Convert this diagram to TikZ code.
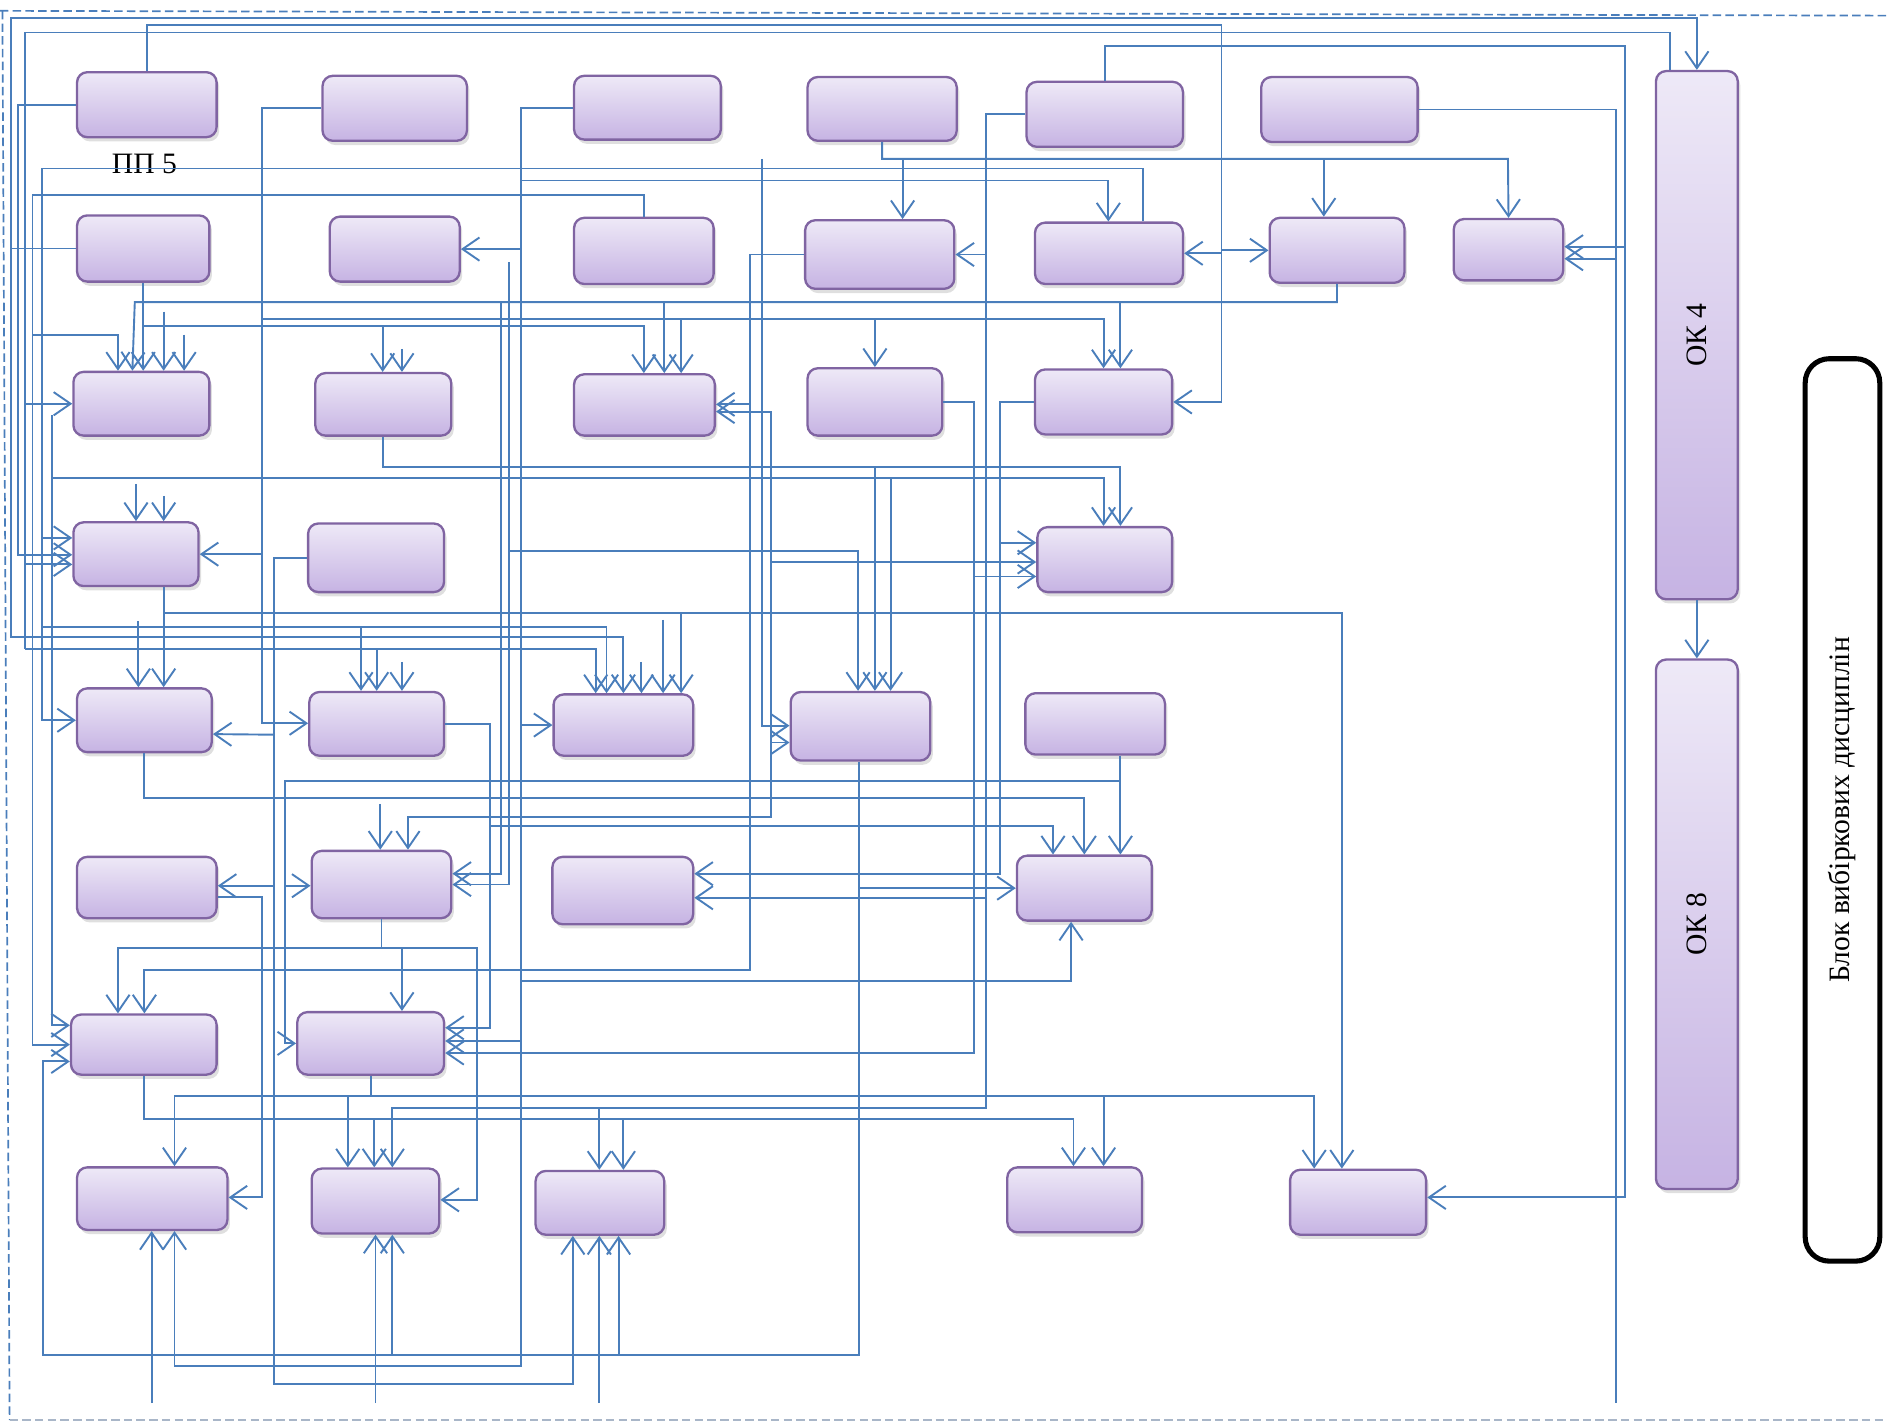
\documentclass[tikz,border=0pt]{standalone}
\usepackage{fontspec}
\setmainfont{Liberation Serif}
\usetikzlibrary{arrows.meta,shadows}

\definecolor{boxline}{HTML}{8064A2}
\definecolor{boxtop}{HTML}{EEE9F7}
\definecolor{boxbot}{HTML}{C6B3E3}
\definecolor{linkblue}{HTML}{4A7EBB}
\definecolor{framegrey}{HTML}{A9B6C8}

\tikzset{
  box/.style={draw=boxline, line width=1.1pt, rounded corners=0.17cm,
    top color=boxtop, bottom color=boxbot, inner sep=0pt,
    drop shadow={shadow xshift=1.2pt, shadow yshift=-2pt, opacity=0.25}},
  blockbox/.style={draw=black, line width=2.4pt, rounded corners=0.4cm, fill=white},
  conn/.style={draw=linkblue, line width=0.9pt},
  arr/.style={conn, -{Straight Barb[length=8pt,width=11pt]}},
  biarr/.style={conn, {Straight Barb[length=8pt,width=11pt]}-{Straight Barb[length=8pt,width=11pt]}},
  framedash/.style={draw=linkblue, line width=0.8pt, dash pattern=on 4pt off 2pt},
  lbl/.style={font=\fontsize{14}{16}\selectfont},
}

\begin{document}
\begin{tikzpicture}[x=0.02cm, y=-0.02cm]
\useasboundingbox (0,0) rectangle (1568,1182);

% frame
\draw[framedash] (0,9) -- (1568,13);
\draw[framedash] (2,9) -- (8,1180);
\draw[framedash, draw=framegrey] (8,1180) -- (1568,1180);

% row 1
\node[box, minimum width=2.32cm, minimum height=1.08cm] (b11) at (122,87) {};
\node[box, minimum width=2.40cm, minimum height=1.08cm] (b12) at (328,90) {};
\node[box, minimum width=2.44cm, minimum height=1.06cm] (b13) at (538,89.5) {};
\node[box, minimum width=2.48cm, minimum height=1.06cm] (b14) at (733,90.5) {};
\node[box, minimum width=2.60cm, minimum height=1.08cm] (b15) at (918,95) {};
\node[box, minimum width=2.60cm, minimum height=1.08cm] (b16) at (1113,91) {};
\node[lbl] (pp5) at (120,136) {ПП 5};
% row 2
\node[box, minimum width=2.20cm, minimum height=1.10cm] (b21) at (119,206.5) {};
\node[box, minimum width=2.16cm, minimum height=1.08cm] (b22) at (328,207) {};
\node[box, minimum width=2.32cm, minimum height=1.10cm] (b23) at (535,208.5) {};
\node[box, minimum width=2.48cm, minimum height=1.14cm] (b24) at (731,211.5) {};
\node[box, minimum width=2.46cm, minimum height=1.02cm] (b25) at (921.5,210.5) {};
\node[box, minimum width=2.24cm, minimum height=1.08cm] (b26) at (1111,208) {};
\node[box, minimum width=1.82cm, minimum height=1.02cm] (b27) at (1253.5,207.5) {};
% row 3
\node[box, minimum width=2.26cm, minimum height=1.06cm] (b31) at (117.5,335.5) {};
\node[box, minimum width=2.26cm, minimum height=1.04cm] (b32) at (318.5,336) {};
\node[box, minimum width=2.34cm, minimum height=1.02cm] (b33) at (535.5,336.5) {};
\node[box, minimum width=2.24cm, minimum height=1.12cm] (b34) at (727,334) {};
\node[box, minimum width=2.28cm, minimum height=1.08cm] (b35) at (917,334) {};
% row 4
\node[box, minimum width=2.08cm, minimum height=1.06cm] (b41) at (113,460.5) {};
\node[box, minimum width=2.26cm, minimum height=1.14cm] (b42) at (312.5,463.5) {};
\node[box, minimum width=2.24cm, minimum height=1.08cm] (b43) at (918,465) {};
% row 5
\node[box, minimum width=2.24cm, minimum height=1.06cm] (b51) at (120,598.5) {};
\node[box, minimum width=2.24cm, minimum height=1.06cm] (b52) at (313,601.5) {};
\node[box, minimum width=2.32cm, minimum height=1.02cm] (b53) at (518,602.5) {};
\node[box, minimum width=2.32cm, minimum height=1.14cm] (b54) at (715,603.5) {};
\node[box, minimum width=2.32cm, minimum height=1.02cm] (b55) at (910,601.5) {};
% row 6
\node[box, minimum width=2.32cm, minimum height=1.02cm] (b61) at (122,737.5) {};
\node[box, minimum width=2.32cm, minimum height=1.12cm] (b62) at (317,735) {};
\node[box, minimum width=2.34cm, minimum height=1.12cm] (b63) at (517.5,740) {};
\node[box, minimum width=2.24cm, minimum height=1.08cm] (b64) at (901,738) {};
% row 7
\node[box, minimum width=2.42cm, minimum height=1.00cm] (b71) at (119.5,868) {};
\node[box, minimum width=2.44cm, minimum height=1.04cm] (b72) at (308,867) {};
% row 8
\node[box, minimum width=2.50cm, minimum height=1.04cm] (b81) at (126.5,996) {};
\node[box, minimum width=2.12cm, minimum height=1.08cm] (b82) at (312,998) {};
\node[box, minimum width=2.14cm, minimum height=1.06cm] (b83) at (498.5,999.5) {};
\node[box, minimum width=2.24cm, minimum height=1.08cm] (b84) at (893,997) {};
\node[box, minimum width=2.26cm, minimum height=1.08cm] (b85) at (1128.5,999) {};
% right column
\node[box, minimum width=1.36cm, minimum height=8.78cm] (ok4) at (1410,278.5) {};
\node[lbl, rotate=90] (ok4txt) at (ok4) {ОК 4};
\node[box, minimum width=1.36cm, minimum height=8.80cm] (ok8) at (1410,768) {};
\node[lbl, rotate=90] (ok8txt) at (ok8) {ОК 8};
\node[blockbox, minimum width=1.24cm, minimum height=15cm] (blk) at (1531,673) {};
\node[lbl, rotate=90] (blktxt) at (blk) {Блок вибіркових дисциплін};

% vertical buses
\coordinate (v9) at (9,15);
\coordinate (v21) at (21,27);
\coordinate (v27) at (27,162);
\coordinate (v35) at (35,140);
\coordinate (v43) at (43,345);
\coordinate (v218) at (218,90);
\coordinate (v228) at (228,462);
\coordinate (v237) at (237,649);
\coordinate (v407) at (407,601);
\coordinate (v416) at (416,251);
\coordinate (v423) at (423,218);
\coordinate (v433) at (433,90);
\coordinate (v623) at (623,207);
\coordinate (v633) at (633,132);
\coordinate (v641) at (641,342);
\coordinate (v809) at (809,334);
\coordinate (v819) at (819,95);
\coordinate (v831) at (831,334);
\coordinate (v1015) at (1015,21);
\coordinate (v1343) at (1343,91);
\coordinate (v1350) at (1350,38);

% left side
\draw[arr] (b21.west) -| (v9) -| (ok4.north);
\draw[arr] (v9 |- b21.west) |- (518,529) -- (518,0 |- b53.north);
\draw[arr] (b11.north) |- (v1015) |- (b35.east);
\draw[arr] (v1015 |- b25.east) -- (b25.east);
\draw[arr] (v1015 |- b26.west) -- (b26.west);
\draw[conn] (1388,0 |- ok4.north) |- (v21) -- (21,539);
\draw[arr] (21,539) -| (495,0 |- b53.north);
\draw[arr] (313,539) -- (313,0 |- b52.north);
\draw[arr] (v21 |- b31.west) -- (b31.west);
\draw[arr] (21,469) -- (0,469 -| b41.west);
\draw[arr] (b11.west) -| (15,461) -- (0,461 -| b41.west);
\draw[arr] (b23.north) |- (v27) |- (0,868 -| b71.west);
\draw[arr] (27,278) -| (98,0 |- b31.north);
\draw[arr] (950,0 |- b25.north) |- (v35) |- (b51.west);
\draw[arr] (35,447) -- (0,447 -| b41.west);
\draw[arr] (35,521) -| (504,0 |- b53.north);
\draw[arr] (300,521) -- (300,0 |- b52.north);
\draw[arr] (v43) -- (43,852) -- (0,852 -| b71.west);
\draw[arr] (43,397) -| (917,0 |- b43.north);
\draw[arr] (740,397) -- (740,0 |- b54.north);
\draw[arr] (714,0 |- b54.south) |- (36,1126) |- (0,882 -| b71.west);
\draw[arr] (326,1126) -- (326,0 |- b82.south);
\draw[arr] (514,1126) -- (514,0 |- b83.south);
\draw[arr] (714,738) -- (0,738 -| b64.west);

% middle buses
\draw[arr] (b12.west) -| (218,601) -- (0,601 -| b52.west);
\draw[arr] (v218 |- b41.east) -- (b41.east);
\draw[arr] (218,265) -| (566,0 |- b33.north);
\draw[arr] (566,265) -| (917,0 |- b35.north);
\draw[arr] (727,265) -- (727,0 |- b34.north);
\draw[arr] (b42.west) -| (228,1150) -| (476,0 |- b83.south);
\draw[arr] (v228 |- b51.east) ++(0,12) -- (0,610 -| b51.east);
\draw[arr] (228,736) -- (0,736 -| b61.east);
\draw[arr] (0,745 -| b61.east) -| (218,995) -- (0,995 -| b81.east);
\draw[arr] (931,0 |- b55.south) |- (v237) |- (0,867 -| b72.west);
\draw[arr] (931,649) -- (931,0 |- b64.north);
\draw[arr] (237,736) -- (0,736 -| b62.west);
\draw[arr] (b62.south) |- (98,788) -- (98,0 |- b71.north);
\draw[arr] (317,788) -| (396,997) -- (0,997 -| b82.east);
\draw[arr] (334,788) -- (334,0 |- b72.north);
\draw[arr] (b52.east) -| (407,854) -- (0,854 -| b72.east);
\draw[arr] (407,686) -| (875,0 |- b64.north);
\draw[arr] (b26.south) |- (112,251) -- (110,0 |- b31.north);
\draw[arr] (931,251) -- (931,0 |- b35.north);
\draw[arr] (552,251) -- (552,0 |- b33.north);
\draw[arr] (v416) -- (416,726) -- (0,726 -| b62.east);
\draw[arr] (v423) -- (423,735) -- (0,735 -| b62.east);
\draw[arr] (423,458) -| (713,0 |- b54.north);
\draw[arr] (b13.west) -| (433,1135) -| (145,0 |- b81.south);
\draw[arr] (v433 |- b22.east) -- (b22.east);
\draw[arr] (433,150) -| (921,0 |- b25.north);
\draw[arr] (v433 |- b53.west) -- (b53.west);
\draw[arr] (433,865) -- (0,865 -| b72.east);
\draw[arr] (433,815) -| (890,0 |- b64.south);

% right buses
\draw[arr] (b24.west) -| (623,806) -| (120,0 |- b71.north);
\draw[arr] (623,336) -- (0,336 -| b33.east);
\draw[arr] (b14.south) |- (1253,132) -- (b27.north);
\draw[arr] (750,132) -- (750,0 |- b24.north);
\draw[arr] (1100,132) -- (1100,0 |- b26.north);
\draw[arr] (v633) -- (633,603) -- (0,603 -| b54.west);
\draw[biarr] (0,342 -| b33.east) -| (641,679) -| (339,0 |- b62.north);
\draw[arr] (641,467) -- (0,467 -| b43.west);
\draw[arr] (641,617) -- (0,617 -| b54.west);
\draw[arr] (b34.east) -| (809,875) -- (0,875 -| b72.east);
\draw[arr] (809,479) -- (0,479 -| b43.west);
\draw[arr] (b15.west) -| (819,921) -| (326,0 |- b82.north);
\draw[arr] (v819 |- b24.east) -- (b24.east);
\draw[arr] (819,746) -- (0,746 -| b63.east);
\draw[arr] (498,921) -- (498,0 |- b83.north);
\draw[arr] (b35.west) -| (831,726) -- (0,726 -| b63.east);
\draw[arr] (831,451) -- (0,451 -| b43.west);
\draw[arr] (136,0 |- b41.south) -- (136,0 |- b51.north);
\draw[arr] (136,509) -| (1115,0 |- b85.north);
\draw[arr] (566,509) -- (566,0 |- b53.north);
\draw[conn] (b16.east) -| (1343,1166);
\draw[arr] (1343,215) -- (0,215 -| b27.east);
\draw[arr] (b15.north) |- (v1350) |- (0,995 -| b85.east);
\draw[arr] (1350,205) -- (0,205 -| b27.east);
\draw[arr] (ok4.south) -- (ok8.north);

% lower rows
\draw[arr] (b21.south) -- (b21.south |- b31.north);
\draw[arr] (119,271) -| (535,0 |- b33.north);
\draw[arr] (318,271) -- (318,0 |- b32.north);
\draw[arr] (b32.south) |- (931,388) -- (931,0 |- b43.north);
\draw[arr] (727,388) -- (727,0 |- b54.north);
\draw[arr] (b51.south) |- (901,663) -- (901,0 |- b64.north);
\draw[arr] (b71.south) |- (892,930) -- (892,0 |- b84.north);
\draw[arr] (311,930) -- (311,0 |- b82.north);
\draw[arr] (518,930) -- (518,0 |- b83.north);
\draw[arr] (b72.south) |- (145,911) -- (145,0 |- b81.north);
\draw[arr] (b72.south) |- (1092,911) -- (1092,0 |- b85.north);
\draw[arr] (289,911) -- (289,0 |- b82.north);
\draw[arr] (917,911) -- (917,0 |- b84.north);

% short stubs
\draw[arr] (126,1166) -- (126,0 |- b81.south);
\draw[arr] (312,1166) -- (312,0 |- b82.south);
\draw[arr] (498,1166) -- (498,0 |- b83.south);
\draw[arr] (136,259) -- (136,0 |- b31.north);
\draw[arr] (153,278) -- (153,0 |- b31.north);
\draw[arr] (334,290) -- (334,0 |- b32.north);
\draw[arr] (113,402) -- (113,0 |- b41.north);
\draw[arr] (136,412) -- (136,0 |- b41.north);
\draw[arr] (115,516) -- (115,0 |- b51.north);
\draw[arr] (334,550) -- (334,0 |- b52.north);
\draw[arr] (533,550) -- (533,0 |- b53.north);
\draw[arr] (551,515) -- (551,0 |- b53.north);
\draw[arr] (316,668) -- (316,0 |- b62.north);
\end{tikzpicture}
\end{document}
